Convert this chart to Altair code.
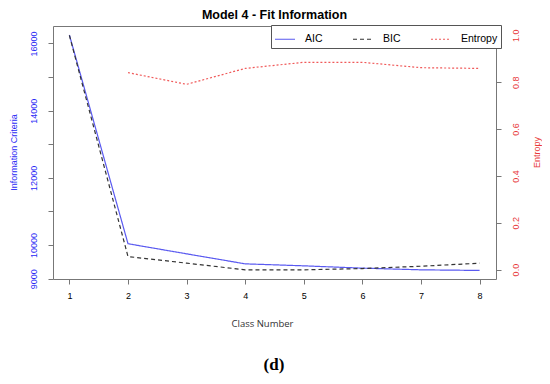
import altair as alt
import pandas as pd

classes = [1, 2, 3, 4, 5, 6, 7, 8]
aic = [16252, 10040, 9739, 9441, 9382, 9313, 9263, 9245]
bic = [16240, 9658, 9462, 9263, 9263, 9301, 9370, 9460]
entropy_classes = [2, 3, 4, 5, 6, 7, 8]
entropy = [0.841, 0.791, 0.859, 0.885, 0.885, 0.862, 0.859]

series_names = ["AIC", "BIC", "Entropy"]
series_colors = ["#5a5af0", "#333333", "#f05a5a"]
series_dashes = [[1, 0], [4, 3], [2, 2]]

ic_df = pd.DataFrame(
    {"cls": classes * 2, "value": aic + bic, "series": ["AIC"] * len(aic) + ["BIC"] * len(bic)}
)
ent_df = pd.DataFrame({"cls": entropy_classes, "value": entropy, "series": ["Entropy"] * len(entropy)})

FONT = "Liberation Sans"
BLUE = "#2a2af5"
RED = "#e8393a"

x_enc = alt.X(
    "cls:Q",
    scale=alt.Scale(domain=[0.72, 8.28], nice=False, zero=False),
    axis=alt.Axis(
        values=classes, format="d", title="Class Number", titleFont="Open Sans",
        titleFontSize=9.5, titleFontWeight="normal", titleColor="#333333",
        titleX=209, titleY=44, titleBaseline="middle", titleAlign="center",
        labelFontSize=9, labelColor="black", labelPadding=7, labelFont=FONT,
    ),
)

color_enc = alt.Color(
    "series:N",
    scale=alt.Scale(domain=series_names, range=series_colors),
    legend=alt.Legend(
        title=None, orient="none", legendX=218, legendY=-1, direction="horizontal",
        symbolType="stroke", symbolSize=400, symbolStrokeWidth=1.2,
        labelFontSize=10.5, labelFont=FONT, labelColor="black", labelOffset=9,
        columnPadding=27, padding=3, strokeColor="#555555", fillColor="white",
    ),
)
dash_enc = alt.StrokeDash(
    "series:N",
    scale=alt.Scale(domain=series_names, range=series_dashes),
    legend=alt.Legend(title=None),
)

ic_lines = alt.Chart(ic_df).mark_line(strokeWidth=1.2).encode(
    x=x_enc,
    y=alt.Y(
        "value:Q",
        scale=alt.Scale(domain=[8990, 16520], nice=False, zero=False),
        axis=alt.Axis(
            values=[9000, 10000, 11000, 12000, 13000, 14000, 15000, 16000],
            format="d",
            labelExpr="(datum.value == 9000 || datum.value % 2000 == 0) ? datum.label : ''",
            labelAngle=-90, labelAlign="center", labelBaseline="bottom",
            labelColor=BLUE, labelFontSize=9, labelFont=FONT, labelPadding=10,
            title="Information Criteria", titleColor=BLUE, titleFontSize=9,
            titleFont=FONT, titleFontWeight="normal", titleX=-40, titleY=126,
            titleAngle=-90, titleAlign="center", titleBaseline="middle",
        ),
    ),
    color=color_enc,
    strokeDash=dash_enc,
)

ent_line = alt.Chart(ent_df).mark_line(strokeWidth=1.2).encode(
    x=alt.X("cls:Q"),
    y=alt.Y(
        "value:Q",
        scale=alt.Scale(domain=[-0.04, 1.04], nice=False, zero=False),
        axis=alt.Axis(
            orient="right", values=[0, 0.2, 0.4, 0.6, 0.8, 1.0], format=".1f",
            labelAngle=-90, labelAlign="center", labelBaseline="top",
            labelColor=RED, labelFontSize=9, labelFont=FONT, labelPadding=10,
            title="Entropy", titleColor=RED, titleFontSize=9, titleFont=FONT,
            titleFontWeight="normal", titleX=40, titleY=126, titleAngle=-90,
            titleAlign="center", titleBaseline="middle",
        ),
    ),
    color=color_enc,
    strokeDash=dash_enc,
)

caption = alt.Chart(pd.DataFrame({"t": ["(d)"]})).mark_text(
    font="Liberation Serif", fontSize=17, fontWeight="bold", color="black",
    align="center", baseline="middle",
).encode(text="t:N", x=alt.value(221), y=alt.value(339))

chart = (
    alt.layer(ic_lines, ent_line, caption)
    .resolve_scale(y="independent")
    .properties(
        width=443, height=253,
        title=alt.TitleParams(
            "Model 4 - Fit Information", fontSize=12.5, font=FONT, fontWeight="bold",
            anchor="middle", offset=3, color="black",
        ),
        autosize=alt.AutoSizeParams(type="none"),
        padding={"left": 45, "top": 18, "right": 46, "bottom": 97},
    )
    .configure_view(stroke="#777777", strokeWidth=1)
    .configure_axis(domain=False, grid=False, tickColor="#777777", tickSize=5, tickWidth=1)
)

chart.save("out.html", embed_options={"renderer": "svg", "actions": False})
